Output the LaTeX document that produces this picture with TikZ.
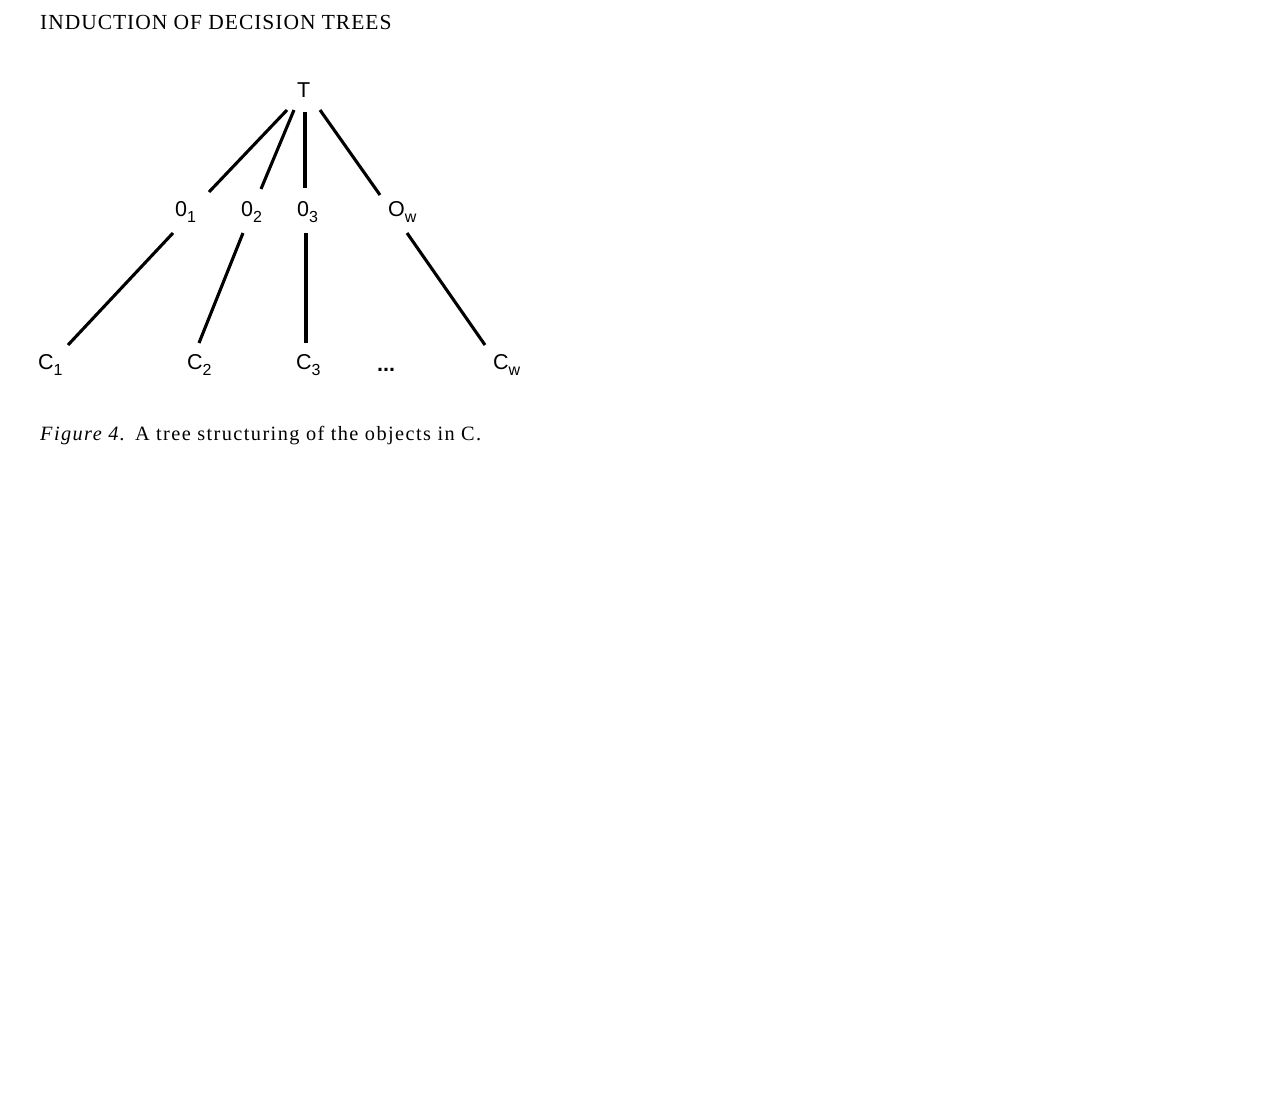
\documentclass[tikz,border=0pt]{standalone}
\usepackage{fontspec}
\setmainfont{Liberation Serif}
\newfontfamily\lblfont{Liberation Sans}
\newfontfamily\headfont[LetterSpace=4.5]{Liberation Serif}
\newfontfamily\capfont[LetterSpace=7]{Liberation Serif}
\newcommand\mysub[1]{\raisebox{-0.3em}{\fontsize{16}{16}\selectfont #1}}
\tikzset{
  lbl/.style={anchor=base west, inner sep=0pt, font=\lblfont\fontsize{21.5}{22}\selectfont},
  edge/.style={line width=3.1pt},
  txt/.style={anchor=base west, inner sep=0pt}
}
\begin{document}
\begin{tikzpicture}[x=1pt,y=-1pt]
\useasboundingbox[fill=white] (0,0) rectangle (1261,1111);
\node[txt, font=\headfont\fontsize{21.5}{22}\selectfont] (head) at (40,29) {INDUCTION OF DECISION TREES};
\node[lbl] (T) at (297,97) {T};
\node[lbl] (O1) at (175,216) {0\mysub{1}};
\node[lbl] (O2) at (241,216) {0\mysub{2}};
\node[lbl] (O3) at (297,216) {0\mysub{3}};
\node[lbl] (Ow) at (388,216) {O\mysub{w}};
\node[lbl] (C1) at (38,369) {C\mysub{1}};
\node[lbl] (C2) at (187,369) {C\mysub{2}};
\node[lbl] (C3) at (296,369) {C\mysub{3}};
\node[lbl] (dots) at (377,371) {\textbf{...}};
\node[lbl] (Cw) at (493,369) {C\mysub{w}};
\node[txt, font=\capfont\fontsize{20.3}{21}\selectfont] (cap) at (40,440) {\textit{Figure 4.} A tree structuring of the objects in C.};
% upper connector ends
\coordinate (t1) at (287,110); \coordinate (o1t) at (209,192);
\coordinate (t2) at (294,110); \coordinate (o2t) at (261,189);
\coordinate (t3) at (305,112); \coordinate (o3t) at (305,188);
\coordinate (t4) at (320,110); \coordinate (owt) at (380,195);
% lower connector ends
\coordinate (o1b) at (173,233); \coordinate (c1t) at (68,345);
\coordinate (o2b) at (243,233); \coordinate (c2t) at (199,343);
\coordinate (o3b) at (306,233); \coordinate (c3t) at (306,343);
\coordinate (owb) at (407,233); \coordinate (cwt) at (485,345);
\draw[edge] (t1) -- (o1t);
\draw[edge] (t2) -- (o2t);
\draw[edge] (t3) -- (o3t);
\draw[edge] (t4) -- (owt);
\draw[edge] (o1b) -- (c1t);
\draw[edge] (o2b) -- (c2t);
\draw[edge] (o3b) -- (c3t);
\draw[edge] (owb) -- (cwt);
\end{tikzpicture}
\end{document}
